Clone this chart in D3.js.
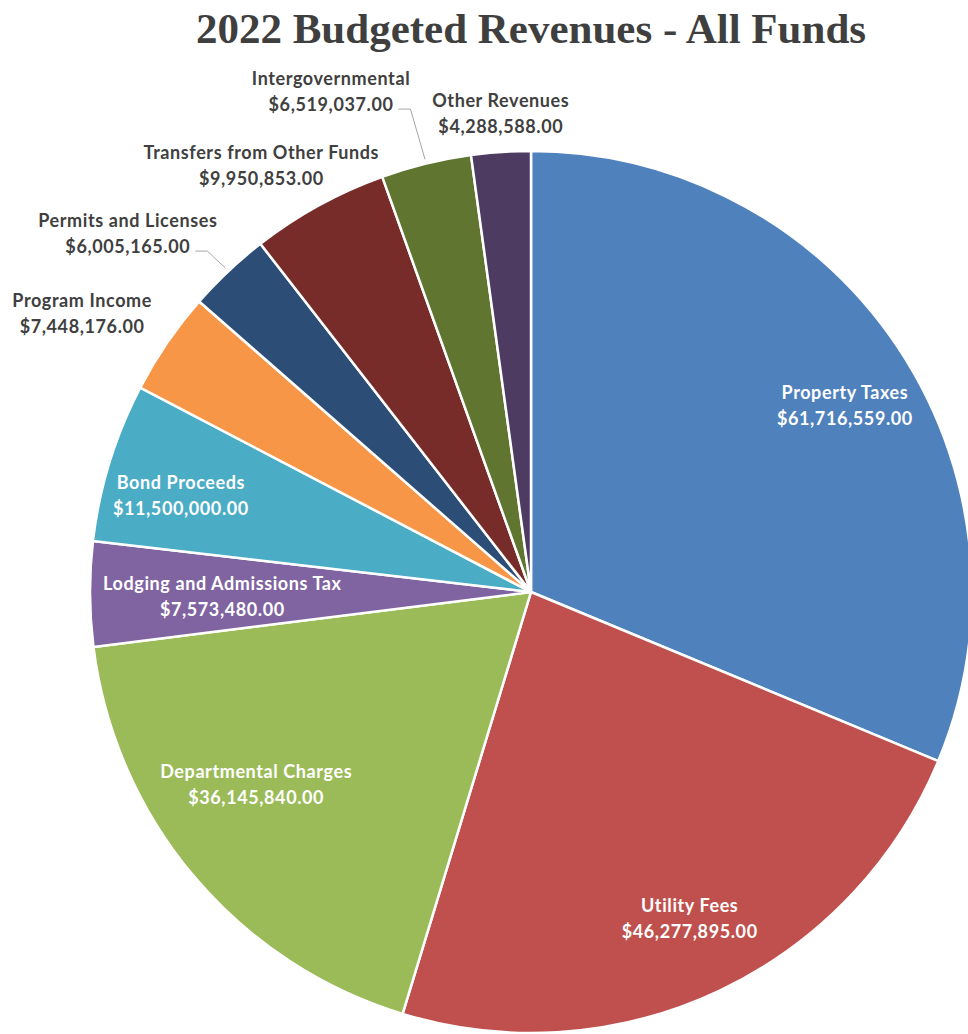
<!DOCTYPE html>
<html>
<head>
<meta charset="utf-8">
<script src="https://cdn.jsdelivr.net/npm/d3@7"></script>
<style>
  html, body { margin: 0; padding: 0; background: #ffffff; }
  svg { display: block; }
</style>
</head>
<body>
<svg id="chart" width="968" height="1034"></svg>
<script>
// Revenue sources, in drawing order (clockwise from 12 o'clock)
const categories = [
  "Property Taxes",
  "Utility Fees",
  "Departmental Charges",
  "Lodging and Admissions Tax",
  "Bond Proceeds",
  "Program Income",
  "Permits and Licenses",
  "Transfers from Other Funds",
  "Intergovernmental",
  "Other Revenues"
];

const values = [
  61716559.00,
  46277895.00,
  36145840.00,
  7573480.00,
  11500000.00,
  7448176.00,
  6005165.00,
  9950853.00,
  6519037.00,
  4288588.00
];

const colors = [
  "#4f81bd", "#c0504d", "#9bbb59", "#8064a2", "#4bacc6",
  "#f79646", "#2c4d75", "#772c2a", "#5f7530", "#4d3b62"
];

// Label placement per slice: [angle shift from slice middle (deg), distance as share of radius]
const labelShift = [2.9, -0.7, 5.2, -0.5, -1.6, -2.5, -5.0, -3.5, -8.0, 0.3];
const labelDist  = [0.829, 0.822, 0.76, 0.70, 0.824, 1.199, 1.224, 1.145, 1.223, 1.088];
// Slices whose outside label is tied to the slice with a leader line
const withLeader = [false, false, false, false, false, false, true, false, true, false];

const svg = d3.select("#chart");
const cx = 531, cy = 592, R = 441;

const fmt = v => "$" + d3.format(",.2f")(v);

// Title
svg.append("text")
  .attr("x", 531)
  .attr("y", 43)
  .attr("text-anchor", "middle")
  .attr("font-family", "'Liberation Serif', 'Times New Roman', serif")
  .attr("font-weight", "bold")
  .attr("font-size", 43)
  .attr("fill", "#3f3f3f")
  .text("2022 Budgeted Revenues - All Funds");

const pie = d3.pie().sort(null).value(d => d.value);
const data = categories.map((c, i) => ({ name: c, value: values[i], color: colors[i], i }));
const arcs = pie(data);

const arc = d3.arc().innerRadius(0).outerRadius(R);

const g = svg.append("g").attr("transform", `translate(${cx},${cy})`);

g.selectAll("path.slice")
  .data(arcs)
  .join("path")
  .attr("class", "slice")
  .attr("d", arc)
  .attr("fill", d => d.data.color)
  .attr("stroke", "#ffffff")
  .attr("stroke-width", 2.5)
  .attr("stroke-linejoin", "round");

const deg = Math.PI / 180;
const lineGap = 13;

arcs.forEach(a => {
  const i = a.data.i;
  const mid = (a.startAngle + a.endAngle) / 2;
  const [lx, ly] = d3.pointRadial(mid + labelShift[i] * deg, R * labelDist[i]);
  const inside = labelDist[i] < 1;
  const lbl = g.append("text")
    .attr("text-anchor", "middle")
    .attr("font-family", "Lato, 'Open Sans', sans-serif")
    .attr("font-weight", "bold")
    .attr("font-size", 18)
    .attr("letter-spacing", 0.6)
    .attr("fill", inside ? "#ffffff" : "#404040");
  lbl.append("tspan")
    .attr("x", lx).attr("y", ly - lineGap)
    .attr("dominant-baseline", "central")
    .text(a.data.name);
  const valSpan = lbl.append("tspan")
    .attr("x", lx).attr("y", ly + lineGap)
    .attr("dominant-baseline", "central")
    .text(fmt(a.data.value));

  if (withLeader[i]) {
    const w = valSpan.node().getComputedTextLength();
    const x0 = lx + w / 2 + 5;
    const y0 = ly + lineGap + 5;
    const [ex, ey] = d3.pointRadial(mid, R * 1.01);
    g.insert("path", "text")
      .attr("d", d3.line()([[x0, y0], [x0 + 12, y0], [ex, ey]]))
      .attr("fill", "none")
      .attr("stroke", "#a6a6a6")
      .attr("stroke-width", 1);
  }
});
</script>
</body>
</html>
